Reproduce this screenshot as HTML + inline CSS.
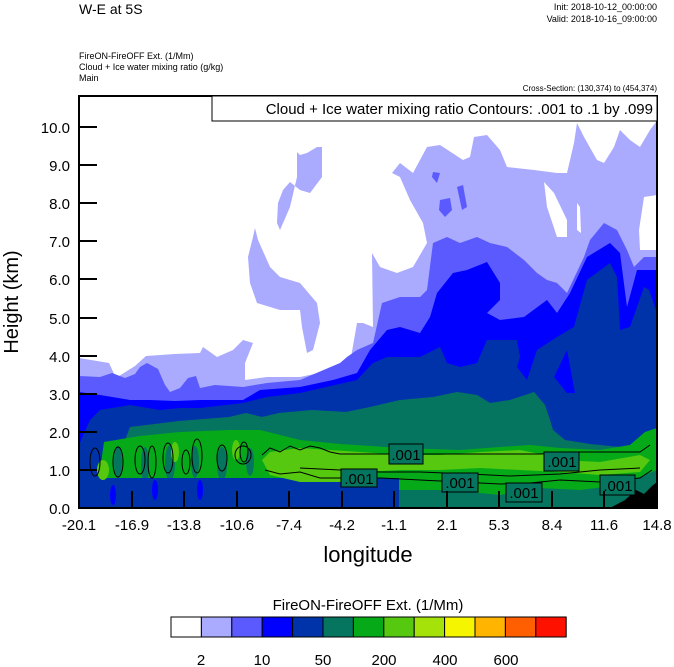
<!DOCTYPE html>
<html><head><meta charset="utf-8"><style>
html,body{margin:0;padding:0;background:#fff;}
svg{display:block;font-family:"Liberation Sans",Arial,sans-serif;}
</style></head><body>
<svg width="674" height="667" viewBox="0 0 674 667" xmlns="http://www.w3.org/2000/svg">
<defs><clipPath id="pc"><rect x="79" y="96" width="578" height="412"/></clipPath></defs>
<text x="79" y="14" font-size="14">W-E at 5S</text>
<text x="657" y="10" font-size="9" text-anchor="end">Init: 2018-10-12_00:00:00</text>
<text x="657" y="22" font-size="9" text-anchor="end">Valid: 2018-10-16_09:00:00</text>
<text x="79" y="59" font-size="9">FireON-FireOFF Ext.   (1/Mm)</text>
<text x="79" y="70" font-size="9">Cloud + Ice water mixing ratio   (g/kg)</text>
<text x="79" y="81" font-size="9">Main</text>
<text x="657" y="91" font-size="8" text-anchor="end">Cross-Section: (130,374) to (454,374)</text>

<g clip-path="url(#pc)">
<rect x="79" y="96" width="578" height="412" fill="#aaaaff"/>
<polygon fill="#fff" points="79,96 79,358 109,363 116,378 135,366 146,356 175,354 200,353 203,347 217,357 233,350 243,340 253,343 245,363 245,380 267,377 300,377 333,370 350,363 357,323 363,323 373,327 372,253 380,267 397,273 413,267 427,243 423,223 410,200 400,177 392,173 400,163 413,173 427,147 440,145 463,160 470,157 474,137 487,135 500,150 507,167 534,170 557,173 567,173 574,143 577,123 584,137 597,160 604,163 614,147 620,130 630,140 640,147 650,130 656,122 657,96"/>
<polygon fill="#aaaaff" points="297,152 300,155 307,153 317,147 322,147 322,177 310,193 300,190 290,182 283,190 278,203 277,223 280,230 290,207 297,177"/>
<polygon fill="#aaaaff" points="255,228 258,240 270,267 280,277 300,283 317,303 320,323 313,350 307,353 302,327 300,310 280,310 257,303 250,283 248,257 253,237"/>
<polygon fill="#fff" points="544,182 554,193 567,220 567,237 557,237 547,207"/>
<polygon fill="#fff" points="577,203 580,207 581,233 577,230"/>
<polygon fill="#fff" points="644,197 657,195 657,250 640,250 639,230"/>
<polygon fill="#5a5aff" points="433,172 440,173 437,183 432,177"/>
<polygon fill="#5a5aff" points="440,200 450,198 452,210 445,217 439,210"/>
<polygon fill="#5a5aff" points="457,187 463,185 467,207 462,210"/>
<polygon fill="#5a5aff" points="79,376 100,377 112,373 125,378 135,374 140,367 147,363 158,369 165,385 170,392 180,388 188,378 196,376 200,388 215,385 243,387 267,383 300,380 340,363 347,357 357,350 373,343 382,303 400,297 420,297 427,290 433,243 447,237 460,243 477,237 490,243 507,247 524,260 537,273 547,280 557,283 567,293 584,257 590,240 604,223 617,230 627,250 634,267 644,257 657,257 657,508 79,508"/>
<polygon fill="#0000ff" points="79,392 100,395 130,400 150,400 175,401 200,400 243,400 260,390 300,387 333,380 357,373 370,350 387,330 400,327 420,333 430,317 437,293 453,273 467,270 487,262 500,283 500,300 487,313 500,320 524,317 547,300 557,313 570,293 587,257 610,243 620,253 627,307 637,270 657,270 657,508 79,508"/>
<polygon fill="#0033aa" points="79,445 90,420 100,410 130,405 160,410 180,408 200,408 243,403 267,397 300,393 357,380 373,363 387,357 420,357 440,347 447,363 460,367 477,363 487,340 517,340 520,357 517,367 527,380 537,350 557,337 574,327 587,280 610,263 617,277 620,330 630,327 644,287 649,290 657,313 657,508 79,508"/>
<polygon fill="#0000ff" points="554,377 567,350 575,393 567,393"/>
<polygon fill="#067560" points="125,440 130,427 179,421 229,417 246,413 262,417 279,413 312,410 346,412 370,407 400,400 433,397 457,392 477,395 490,403 510,400 534,392 545,405 550,420 553,430 565,440 590,444 620,447 640,445 657,440 657,508 395,508 390,482 300,472 200,472 130,468"/>
<polygon fill="#06aa19" points="100,470 104,442 140,436 180,432 230,430 260,430 300,440 340,444 400,448 460,450 500,447 530,445 560,448 600,450 630,445 645,432 657,428 657,470 620,485 580,490 540,488 500,495 450,490 400,490 350,488 300,482 250,480 200,478 150,482 110,485"/>
<g fill="#067560">
<ellipse cx="118" cy="462" rx="4" ry="16"/><ellipse cx="145" cy="465" rx="4" ry="18"/><ellipse cx="170" cy="463" rx="5" ry="18"/><ellipse cx="195" cy="462" rx="4" ry="16"/><ellipse cx="222" cy="464" rx="5" ry="17"/><ellipse cx="250" cy="462" rx="4" ry="14"/>
</g>
<g fill="#0033aa"><rect x="79" y="478" width="320" height="30"/></g>
<g fill="#0000ff"><ellipse cx="155" cy="490" rx="3" ry="10"/><ellipse cx="200" cy="490" rx="3" ry="10"/><ellipse cx="113" cy="495" rx="3" ry="10"/></g>
<polygon fill="#55c80f" points="262,460 270,452 300,448 330,450 360,452 400,455 440,455 480,452 520,450 545,455 560,460 600,462 640,455 650,460 640,472 600,475 560,472 520,470 480,468 440,470 400,470 360,472 340,482 300,482 270,475"/>
<g fill="#55c80f"><ellipse cx="175" cy="452" rx="4" ry="10"/><ellipse cx="236" cy="450" rx="4" ry="10"/><ellipse cx="103" cy="470" rx="6" ry="10"/></g>
<polygon fill="#000" points="610,508 625,500 636,490 644,494 652,486 657,482 657,508"/>
<g fill="none" stroke="#000" stroke-width="1">
<polyline points="262,455 270,448 280,452 290,446 300,450 310,446 320,448 330,452 340,454 400,454 460,454 540,454 570,452 600,452 640,452 650,445"/>
<polyline points="265,470 280,474 300,472 320,478 340,478 380,478 420,480 460,482 500,484 530,483 560,480 600,482 640,478 652,470"/>
<polyline points="300,468 340,470 380,472 420,472 470,474 510,476 560,474 600,470 640,468"/>
<ellipse cx="95" cy="462" rx="5" ry="14"/><ellipse cx="118" cy="462" rx="5" ry="15"/><ellipse cx="140" cy="460" rx="5" ry="14"/><ellipse cx="152" cy="462" rx="4" ry="16"/><ellipse cx="168" cy="458" rx="5" ry="15"/><ellipse cx="186" cy="462" rx="4" ry="12"/><ellipse cx="197" cy="456" rx="5" ry="17"/><ellipse cx="222" cy="458" rx="5" ry="13"/><ellipse cx="243" cy="455" rx="8" ry="9"/><ellipse cx="244" cy="452" rx="4" ry="10"/>
</g>
<g fill="#067560" stroke="#000" stroke-width="1">
<rect x="389" y="444" width="34" height="20"/><rect x="341" y="469" width="36" height="18"/><rect x="442" y="473" width="36" height="19"/><rect x="506" y="483" width="36" height="19"/><rect x="544" y="452" width="35" height="19"/><rect x="600" y="475" width="35" height="20"/>
</g>
<g font-size="15" fill="#000">
<text x="406" y="460" text-anchor="middle">.001</text><text x="359" y="484" text-anchor="middle">.001</text><text x="460" y="488" text-anchor="middle">.001</text><text x="524" y="498" text-anchor="middle">.001</text><text x="562" y="467" text-anchor="middle">.001</text><text x="618" y="491" text-anchor="middle">.001</text>
</g>
</g>
<rect x="79" y="96" width="578" height="412" fill="none" stroke="#000" stroke-width="2"/>
<rect x="212" y="96" width="445" height="25" fill="#fff" stroke="#000" stroke-width="1"/>
<text x="653" y="114" font-size="15" text-anchor="end">Cloud + Ice water mixing ratio Contours: .001 to .1 by .099</text>
<g stroke="#000" stroke-width="2">
<line x1="79" y1="508" x2="97" y2="508"/><line x1="79" y1="470" x2="97" y2="470"/><line x1="79" y1="432" x2="97" y2="432"/><line x1="79" y1="394" x2="97" y2="394"/><line x1="79" y1="356" x2="97" y2="356"/><line x1="79" y1="318" x2="97" y2="318"/><line x1="79" y1="279" x2="97" y2="279"/><line x1="79" y1="241" x2="97" y2="241"/><line x1="79" y1="203" x2="97" y2="203"/><line x1="79" y1="165" x2="97" y2="165"/><line x1="79" y1="127" x2="97" y2="127"/>
<line x1="132" y1="508" x2="132" y2="491"/><line x1="184" y1="508" x2="184" y2="491"/><line x1="237" y1="508" x2="237" y2="491"/><line x1="289" y1="508" x2="289" y2="491"/><line x1="342" y1="508" x2="342" y2="491"/><line x1="394" y1="508" x2="394" y2="491"/><line x1="447" y1="508" x2="447" y2="491"/><line x1="499" y1="508" x2="499" y2="491"/><line x1="552" y1="508" x2="552" y2="491"/><line x1="604" y1="508" x2="604" y2="491"/>
</g>
<g font-size="15" text-anchor="end">
<text x="70" y="514">0.0</text><text x="70" y="476">1.0</text><text x="70" y="438">2.0</text><text x="70" y="400">3.0</text><text x="70" y="362">4.0</text><text x="70" y="324">5.0</text><text x="70" y="285">6.0</text><text x="70" y="247">7.0</text><text x="70" y="209">8.0</text><text x="70" y="171">9.0</text><text x="70" y="133">10.0</text>
</g>
<g font-size="15" text-anchor="middle">
<text x="79" y="530">-20.1</text><text x="132" y="530">-16.9</text><text x="184" y="530">-13.8</text><text x="237" y="530">-10.6</text><text x="289" y="530">-7.4</text><text x="342" y="530">-4.2</text><text x="394" y="530">-1.1</text><text x="447" y="530">2.1</text><text x="499" y="530">5.3</text><text x="552" y="530">8.4</text><text x="604" y="530">11.6</text><text x="657" y="530">14.8</text>
</g>
<text x="368" y="562" font-size="22" text-anchor="middle">longitude</text>
<text transform="translate(18,302) rotate(-90)" font-size="20" text-anchor="middle">Height (km)</text>
<text x="368" y="610" font-size="15" text-anchor="middle">FireON-FireOFF Ext.  (1/Mm)</text>
<g stroke="#000" stroke-width="1">
<rect x="171" y="617" width="30.4" height="20" fill="#ffffff"/>
<rect x="201.4" y="617" width="30.4" height="20" fill="#aaaaff"/>
<rect x="231.8" y="617" width="30.4" height="20" fill="#5a5aff"/>
<rect x="262.2" y="617" width="30.4" height="20" fill="#0000ff"/>
<rect x="292.6" y="617" width="30.4" height="20" fill="#0033aa"/>
<rect x="323" y="617" width="30.4" height="20" fill="#067560"/>
<rect x="353.4" y="617" width="30.4" height="20" fill="#06aa19"/>
<rect x="383.8" y="617" width="30.4" height="20" fill="#55c80f"/>
<rect x="414.2" y="617" width="30.4" height="20" fill="#a5e20a"/>
<rect x="444.6" y="617" width="30.4" height="20" fill="#f5f500"/>
<rect x="475" y="617" width="30.4" height="20" fill="#ffb400"/>
<rect x="505.4" y="617" width="30.4" height="20" fill="#ff5f00"/>
<rect x="535.8" y="617" width="30.4" height="20" fill="#ff1100"/>
</g>
<g font-size="15" text-anchor="middle">
<text x="201" y="665">2</text><text x="262" y="665">10</text><text x="323" y="665">50</text><text x="384" y="665">200</text><text x="445" y="665">400</text><text x="506" y="665">600</text>
</g>
</svg>
</body></html>
